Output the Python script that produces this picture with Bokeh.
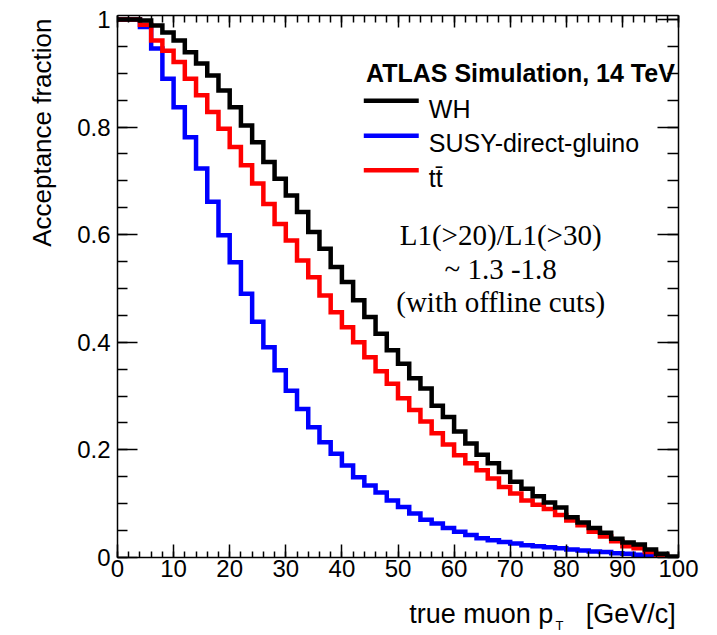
import numpy as np
from bokeh.plotting import figure
from bokeh.models import (LinearAxis, FixedTicker, CustomJSTickFormatter, Label,
                          Range1d, Title)
from bokeh.embed import file_html
from bokeh.resources import INLINE

# 2 GeV bins from 0 to 100 GeV/c
bin_edges = list(range(0, 101, 2))

# Acceptance fraction per bin (fraction of muons above the pT threshold)
wh = [1.000, 1.000, 0.998, 0.989, 0.976, 0.961, 0.939, 0.918, 0.896, 0.868,
      0.837, 0.803, 0.772, 0.735, 0.704, 0.673, 0.642, 0.605, 0.574, 0.540,
      0.512, 0.478, 0.447, 0.416, 0.385, 0.360, 0.333, 0.314, 0.282, 0.261,
      0.234, 0.212, 0.191, 0.175, 0.159, 0.141, 0.128, 0.114, 0.102, 0.093,
      0.075, 0.065, 0.055, 0.046, 0.035, 0.028, 0.024, 0.015, 0.007, 0.002]

susy = [1.000, 1.000, 0.986, 0.946, 0.890, 0.837, 0.781, 0.723, 0.661, 0.599,
        0.549, 0.490, 0.438, 0.391, 0.348, 0.310, 0.276, 0.242, 0.214, 0.193,
        0.171, 0.149, 0.134, 0.121, 0.106, 0.094, 0.082, 0.070, 0.063, 0.055,
        0.048, 0.042, 0.036, 0.032, 0.029, 0.026, 0.023, 0.021, 0.019, 0.017,
        0.015, 0.013, 0.011, 0.010, 0.008, 0.007, 0.005, 0.004, 0.002, 0.000]

ttbar = [1.000, 1.000, 0.990, 0.961, 0.942, 0.921, 0.890, 0.859, 0.828, 0.797,
         0.763, 0.729, 0.695, 0.657, 0.620, 0.589, 0.552, 0.521, 0.487, 0.456,
         0.428, 0.400, 0.372, 0.346, 0.323, 0.296, 0.274, 0.253, 0.231, 0.210,
         0.190, 0.175, 0.162, 0.147, 0.131, 0.119, 0.106, 0.098, 0.090, 0.079,
         0.069, 0.060, 0.048, 0.039, 0.030, 0.021, 0.017, 0.010, 0.004, 0.000]

series_names = ["WH", "SUSY-direct-gluino", "tt\u0304"]
series_colors = ["#000000", "#0000ff", "#ff0000"]

x_major = [0, 10, 20, 30, 40, 50, 60, 70, 80, 90, 100]
x_minor = list(range(0, 101, 2))
y_major = [0, 0.2, 0.4, 0.6, 0.8, 1.0]
y_minor = [i * 0.05 for i in range(21)]

SANS = "Liberation Sans"
SERIF = "Liberation Serif"

p = figure(width=717, height=635, output_backend="svg", toolbar_location=None,
           x_range=Range1d(0, 100), y_range=Range1d(0, 1.0074),
           x_axis_type=None, y_axis_type=None,
           min_border_left=117, min_border_right=39,
           min_border_top=15, min_border_bottom=78)
p.grid.visible = False
p.outline_line_color = None
p.background_fill_color = "white"
p.border_fill_color = "white"


def frame_axis(ticker, major_in, minor_in, labelled, standoff=0, size="24px"):
    ax = LinearAxis(ticker=ticker,
                    major_tick_in=major_in, major_tick_out=0,
                    minor_tick_in=minor_in, minor_tick_out=0,
                    axis_line_color="black", axis_line_width=1.5,
                    major_tick_line_color="black", major_tick_line_width=1.5,
                    minor_tick_line_color="black", minor_tick_line_width=1.5,
                    major_label_standoff=standoff,
                    major_label_text_font=SANS,
                    major_label_text_font_size=size,
                    major_label_text_color="black")
    if not labelled:
        ax.formatter = CustomJSTickFormatter(code="return ''")
    return ax


xt = FixedTicker(ticks=x_major, minor_ticks=x_minor)
yt = FixedTicker(ticks=y_major, minor_ticks=y_minor)

bottom = frame_axis(xt, 13, 6, True, standoff=2)
left = frame_axis(yt, 20, 10, True, standoff=7)
left.formatter = CustomJSTickFormatter(code="return (Math.round(tick*10)/10).toString()")
top = frame_axis(xt, 12, 7, False)
right = frame_axis(yt, 21, 11, False)

# x-axis title: the axis centres its label, so leading em spaces push the
# visible words to the right-hand end of the axis; the subscript is added below
bottom.axis_label = "\u2003" * 10 + "\u2002\u2009" + "true muon p\u2003\u2009[GeV/c]"
bottom.axis_label_text_font = SANS
bottom.axis_label_text_font_size = "27px"
bottom.axis_label_text_font_style = "normal"
bottom.axis_label_text_color = "black"
bottom.axis_label_standoff = 19

p.add_layout(bottom, "below")
p.add_layout(left, "left")
p.add_layout(top, "above")
p.add_layout(right, "right")

# subscript of p_T
p.add_layout(Title(text="T", align="right", vertical_align="top",
                   text_font=SANS, text_font_size="13px", text_font_style="normal",
                   text_color="black", offset=115, standoff=-27), "below")

# y-axis title, aligned to the top of the frame
p.add_layout(Title(text="Acceptance fraction", align="right", vertical_align="bottom",
                   text_font=SANS, text_font_size="26px", text_font_style="normal",
                   text_color="black", offset=3, standoff=36), "left")

# Histograms drawn as steps; last edge repeats the final bin value
for vals, col in [(susy, series_colors[1]), (ttbar, series_colors[2]), (wh, series_colors[0])]:
    p.step(x=bin_edges, y=vals + [vals[-1]], mode="after",
           line_color=col, line_width=4.5, line_join="miter")

# Legend block
p.add_layout(Label(x=44.3, y=0.900, text="ATLAS Simulation, 14 TeV",
                   text_font=SANS, text_font_size="25px", text_font_style="bold",
                   text_color="black", text_align="left", text_baseline="alphabetic"))
leg_y = [0.849, 0.784, 0.720]
for name, col, yy in zip(series_names, series_colors, leg_y):
    p.segment(x0=[43.9], y0=[yy], x1=[53.7], y1=[yy], line_color=col, line_width=4.5)
    p.add_layout(Label(x=55.5, y=yy - 0.0145, text=name, text_font=SANS,
                       text_font_size="25px", text_color="black",
                       text_align="left", text_baseline="alphabetic"))

# Note on trigger thresholds
note_lines = ["L1(>20)/L1(>30)", "~ 1.3 -1.8", "(with offline cuts)"]
note_y = [0.599, 0.537, 0.475]
for t, yy in zip(note_lines, note_y):
    p.add_layout(Label(x=68.3, y=yy, text=t, text_font=SERIF, text_font_size="29px",
                       text_color="black", text_align="center", text_baseline="alphabetic"))

open("out.html", "w").write(file_html(p, INLINE))
